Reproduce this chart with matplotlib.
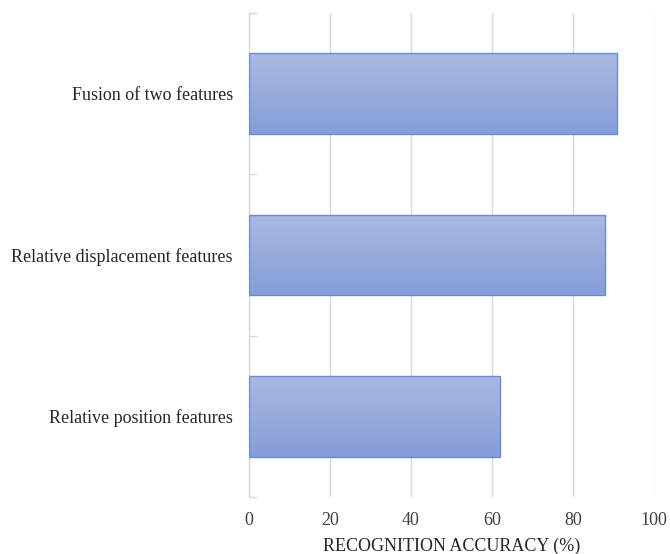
import numpy as np
import matplotlib
matplotlib.use("Agg")
import matplotlib.pyplot as plt
from matplotlib.colors import LinearSegmentedColormap

categories = ["Relative position features",
              "Relative displacement features",
              "Fusion of two features"]
accuracy = [62, 88, 91]
x_ticks = [0, 20, 40, 60, 80, 100]

plt.rcParams["font.family"] = ["Liberation Serif", "DejaVu Serif"]

fig = plt.figure(figsize=(6.7, 5.54), dpi=100)
ax = fig.add_axes([0.3716, 0.1029, 0.6044, 0.8736])

ypos = np.arange(len(categories))
bars = ax.barh(ypos, accuracy, height=0.5, color="#98ace0",
               edgecolor="#6a8ad4", linewidth=1.0, zorder=3)

# vertical gradient fill inside each bar: lighter at the top
grad_cmap = LinearSegmentedColormap.from_list("bar_grad", ["#aab9e1", "#859dd8"])
grad = np.linspace(0, 1, 256).reshape(-1, 1)
for b in bars:
    x0, y0 = b.get_x(), b.get_y()
    w, h = b.get_width(), b.get_height()
    im = ax.imshow(grad, cmap=grad_cmap, aspect="auto",
                   extent=[x0, x0 + w, y0, y0 + h], origin="upper",
                   zorder=3.5, interpolation="bilinear")
    im.set_clip_path(b)
    b.set_facecolor("none")
    b.set_zorder(4)

ax.set_xlim(0, 100)
ax.set_ylim(-0.5, len(categories) - 0.5)
ax.set_xticks(x_ticks)
ax.set_xticklabels([str(t) for t in x_ticks], fontsize=13, color="#404040")
ax.tick_params(axis="x", length=0, pad=11)
ax.xaxis.grid(True, color="#d9d9d9", linewidth=1.0, zorder=0)
ax.set_axisbelow(True)

ax.set_yticks(ypos)
ax.set_yticklabels(categories, fontsize=13, color="#262626")
ax.tick_params(axis="y", which="major", length=0, pad=11.5)
ax.set_yticks(np.arange(-0.5, len(categories)), minor=True)
ax.tick_params(axis="y", which="minor", direction="in", length=6,
               color="#d9d9d9", width=1.0)

for s in ["top", "right", "bottom"]:
    ax.spines[s].set_visible(False)
ax.spines["left"].set_color("#d9d9d9")
ax.spines["left"].set_linewidth(1.0)

ax.set_xlabel("RECOGNITION ACCURACY (%)", fontsize=13, color="#262626", labelpad=6)

fig.savefig("out.png", dpi=100, facecolor="white")
